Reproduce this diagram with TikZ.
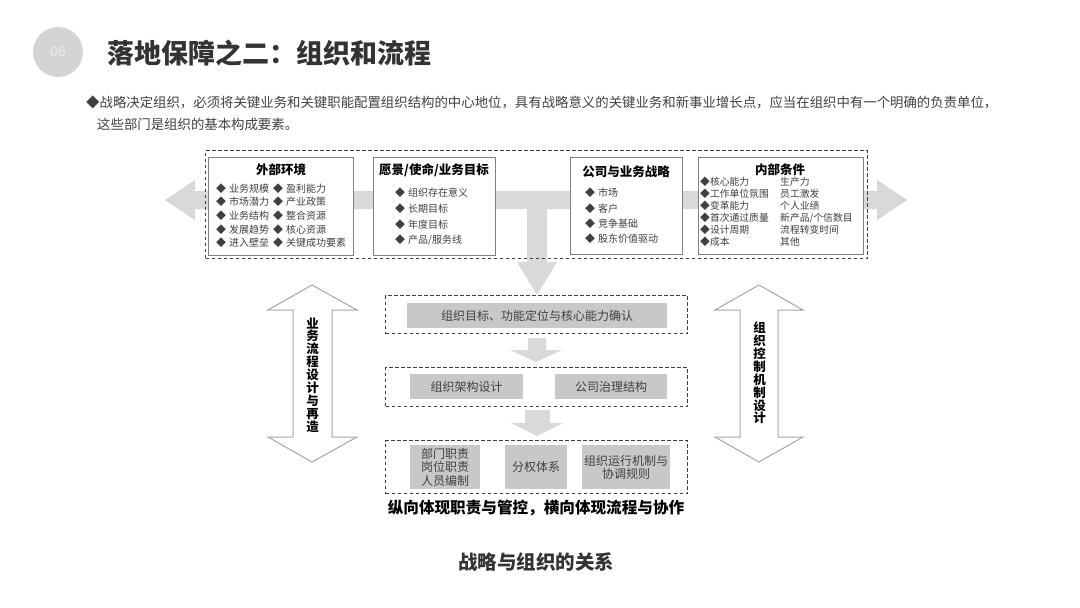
\documentclass[tikz,border=0pt]{standalone}
\usepackage{fontspec}
\setmainfont{Noto Sans CJK SC}
\definecolor{txt}{HTML}{404040}
\definecolor{ttl}{HTML}{333333}
\definecolor{dashc}{HTML}{3F3F3F}
\definecolor{boxc}{HTML}{808080}
\definecolor{arrowc}{HTML}{D9D9D9}
\definecolor{gfill}{HTML}{C8C8C8}
\definecolor{sidec}{HTML}{A6A6A6}
\definecolor{circc}{HTML}{D4D4D4}
\newcommand\itm[1]{◆\hspace{3pt}#1}
\begin{document}
\begin{tikzpicture}[x=1pt,y=-1pt,
 dbox/.style={draw=dashc,line width=1.1pt,dash pattern=on 3.5pt off 2.5pt,anchor=north west,inner sep=0pt},
 wbox/.style={draw=boxc,fill=white,line width=0.9pt,anchor=north west,inner sep=0pt},
 gbox/.style={fill=gfill,anchor=north west,inner sep=0pt,text=txt,font=\fontsize{12}{13.5}\selectfont,align=center},
 side/.style={draw=sidec,fill=white,line width=1pt,line join=miter},
 it/.style={anchor=west,inner sep=0pt,text=txt,font=\fontsize{10}{12}\selectfont},
 iti/.style={anchor=west,inner sep=0pt,text=txt,font=\fontsize{9.8}{11}\selectfont},
 hd/.style={inner sep=0pt,text=black,font=\bfseries\fontsize{12.5}{14}\selectfont},
 vt/.style={inner sep=0pt,text=black,align=center,font=\bfseries\fontsize{12.5}{12.9}\selectfont},
]
\useasboundingbox (0,0) rectangle (1080,608);
% header
\node[circle,fill=circc,minimum size=50pt,inner sep=0pt] (circ) at (58,52) {};
\node[text=white!92!black,font=\fontsize{14}{16}\selectfont] (num) at (circ) {06};
\node[anchor=west,inner sep=0pt,text=ttl,font=\bfseries\fontsize{27}{30}\selectfont] (title) at (107,53) {落地保障之二：组织和流程};
\node[anchor=west,inner sep=0pt,text=txt,font=\fontsize{13.4}{15}\selectfont] (sub1) at (86,102) {◆战略决定组织，必须将关键业务和关键职能配置组织结构的中心地位，具有战略意义的关键业务和新事业增长点，应当在组织中有一个明确的负责单位，};
\node[anchor=west,inner sep=0pt,text=txt,font=\fontsize{13.4}{15}\selectfont] (sub2) at (97,124) {这些部门是组织的基本构成要素。};
% big arrow
\fill[arrowc] (165,200) -- (195,180) -- (195,191) -- (877,191) -- (877,180) -- (907,200) -- (877,220) -- (877,209)
 -- (547,209) -- (547,262) -- (557,262) -- (537,295) -- (517,262) -- (527,262) -- (527,209)
 -- (195,209) -- (195,220) -- cycle;
% top dashed frame
\node[dbox,minimum width=662pt,minimum height=108pt] (top) at (205,150) {};
\node[wbox,minimum width=145pt,minimum height=98pt] (ext) at (208,157) {};
\node[wbox,minimum width=122pt,minimum height=98pt] (vis) at (373,157) {};
\node[wbox,minimum width=112pt,minimum height=97pt] (corp) at (570,157) {};
\node[wbox,minimum width=165pt,minimum height=97pt] (int) at (698,157) {};
% ext
\node[hd] (exth) at (281,170) {外部环境};
\foreach \a/\b [count=\i] in {业务规模/盈利能力,市场潜力/产业政策,业务结构/整合资源,发展趋势/核心资源,进入壁垒/关键成功要素}{
  \node[it] (exa\i) at (216,174.5+13.7*\i) {\itm{\a}};
  \node[it] (exb\i) at (273,174.5+13.7*\i) {\itm{\b}};
}
% vis
\node[hd] (vish) at (434,170) {愿景/使命/业务目标};
\foreach \a [count=\i] in {组织存在意义,长期目标,年度目标,产品/服务线}{
  \node[it] (vi\i) at (395,177.5+15.6*\i) {\itm{\a}};
}
% corp
\node[hd] (corph) at (626,172) {公司与业务战略};
\foreach \a [count=\i] in {市场,客户,竞争基础,股东价值驱动}{
  \node[it] (co\i) at (585,177.5+15.4*\i) {\itm{\a}};
}
% int
\node[hd] (inth) at (780,170) {内部条件};
\foreach \a/\b [count=\i] in {核心能力/生产力,工作单位氛围/员工激发,变革能力/个人业绩,{首次通过质量}/{新产品/个信数目},设计周期/流程转变时间,成本/其他}{
  \node[iti] (ina\i) at (700,170+12*\i) {◆\a};
  \node[iti] (inb\i) at (780,170+12*\i) {\b};
}
% middle boxes
\node[dbox,minimum width=302pt,minimum height=38pt] (d1) at (385,295) {};
\node[gbox,minimum width=260pt,minimum height=25pt] (g1) at (407,303) {组织目标、功能定位与核心能力确认};
\fill[arrowc] (528,338) -- (546,338) -- (546,350) -- (562,350) -- (536,362) -- (510,350) -- (528,350) -- cycle;
\node[dbox,minimum width=302pt,minimum height=39pt] (d2) at (385,367) {};
\node[gbox,minimum width=113pt,minimum height=25pt] (g2) at (410,374) {组织架构设计};
\node[gbox,minimum width=112pt,minimum height=25pt] (g3) at (555,374) {公司治理结构};
\fill[arrowc] (525,410) -- (550,410) -- (550,423) -- (563,423) -- (537,436) -- (511,423) -- (525,423) -- cycle;
\node[dbox,minimum width=302pt,minimum height=53pt] (d3) at (385,440) {};
\node[gbox,minimum width=70pt,minimum height=44pt] (g4) at (410,445) {部门职责\\岗位职责\\人员编制};
\node[gbox,minimum width=62pt,minimum height=44pt] (g5) at (505,445) {分权体系};
\node[gbox,minimum width=88pt,minimum height=44pt] (g6) at (582,445) {组织运行机制与\\协调规则};
\node[inner sep=0pt,text=black,font=\bfseries\fontsize{15.6}{17}\selectfont] (bot) at (536,508) {纵向体现职责与管控，横向体现流程与协作};
% side arrows
\draw[side] (312,285) -- (357,310) -- (332,310) -- (332,437) -- (357,437) -- (312,462) -- (268,437) -- (293,437) -- (293,310) -- (268,310) -- cycle;
\node[vt] (lt) at (312.5,375) {业\\务\\流\\程\\设\\计\\与\\再\\造};
\draw[side] (759,285) -- (803,310) -- (778,310) -- (778,437) -- (803,437) -- (759,462) -- (715,437) -- (740,437) -- (740,310) -- (715,310) -- cycle;
\node[vt] (rt) at (759.5,373) {组\\织\\控\\制\\机\\制\\设\\计};
% caption
\node[inner sep=0pt,text=ttl,font=\bfseries\fontsize{19.5}{22}\selectfont] (cap) at (536,562) {战略与组织的关系};
\end{tikzpicture}
\end{document}
